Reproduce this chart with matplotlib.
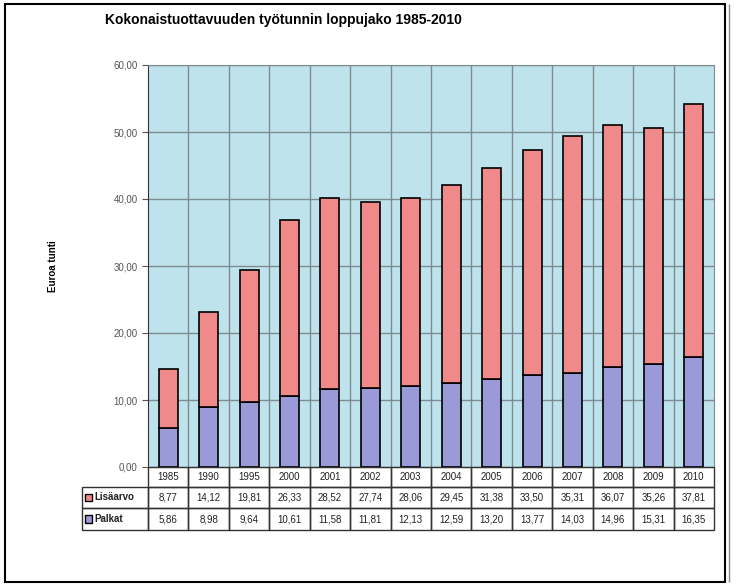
import matplotlib
matplotlib.use('Agg')
import matplotlib.pyplot as plt
from matplotlib.patches import Rectangle

plt.rcParams['font.family'] = ['Liberation Sans', 'DejaVu Sans']

vuodet = ['1985', '1990', '1995', '2000', '2001', '2002', '2003', '2004',
          '2005', '2006', '2007', '2008', '2009', '2010']
lisaarvo = [8.77, 14.12, 19.81, 26.33, 28.52, 27.74, 28.06, 29.45,
            31.38, 33.50, 35.31, 36.07, 35.26, 37.81]
palkat = [5.86, 8.98, 9.64, 10.61, 11.58, 11.81, 12.13, 12.59,
          13.20, 13.77, 14.03, 14.96, 15.31, 16.35]

col_lisa = '#f08a8a'
col_palkat = '#9a9ad8'
bg = '#bfe3ec'

fig = plt.figure(figsize=(7.36, 5.86), dpi=100)
ax = fig.add_axes([148/736, 1-467/586, 566/736, 402/586])
ax.set_facecolor(bg)

x = list(range(len(vuodet)))
ax.bar(x, palkat, width=0.47, color=col_palkat, edgecolor='black', linewidth=1.2, zorder=3)
ax.bar(x, lisaarvo, bottom=palkat, width=0.47, color=col_lisa, edgecolor='black',
       linewidth=1.2, zorder=3)

ax.set_xlim(-0.5, len(vuodet) - 0.5)
ax.set_ylim(0, 60)
ax.set_yticks(range(0, 61, 10))
ax.set_yticklabels([f'{v:.2f}'.replace('.', ',') for v in range(0, 61, 10)],
                   fontsize=7, color='#555555')
ax.tick_params(axis='y', length=4, color='#555555')
ax.set_xticks([])
for y in range(10, 61, 10):
    ax.axhline(y, color='#7d8c90', lw=1.0, zorder=1)
for xv in x[:-1]:
    ax.axvline(xv + 0.5, color='#7d8c90', lw=1.0, zorder=1)
for s in ['top', 'right']:
    ax.spines[s].set_color('#7d8c90')
ax.spines['left'].set_color('#333333')
ax.spines['bottom'].set_color('#333333')

ax.set_ylabel('Euroa tunti', fontsize=7, fontweight='bold', labelpad=40)

# data table below the plot
lbl_w = 66 / 566
rows_h = [20 / 402, 21 / 402, 22 / 402]
rivit = [(None, vuodet),
         ('Lisäarvo', [f'{v:.2f}'.replace('.', ',') for v in lisaarvo]),
         ('Palkat', [f'{v:.2f}'.replace('.', ',') for v in palkat])]
colw = 1 / len(vuodet)
ytop = 0
for (label, vals), h in zip(rivit, rows_h):
    ybot = ytop - h
    for i, v in enumerate(vals):
        ax.add_patch(Rectangle((i * colw, ybot), colw, h, transform=ax.transAxes,
                               fill=False, edgecolor='#333333', lw=1.0, clip_on=False))
        ax.text((i + 0.5) * colw, ybot + h / 2, v, transform=ax.transAxes,
                ha='center', va='center', fontsize=7, color='#222222')
    if label:
        ax.add_patch(Rectangle((-lbl_w, ybot), lbl_w, h, transform=ax.transAxes,
                               fill=False, edgecolor='#333333', lw=1.0, clip_on=False))
        kc = col_lisa if label == 'Lisäarvo' else col_palkat
        ax.add_patch(Rectangle((-lbl_w + 0.006, ybot + h / 2 - 0.009), 0.011, 0.018,
                               transform=ax.transAxes, facecolor=kc, edgecolor='black',
                               lw=1.0, clip_on=False))
        ax.text(-lbl_w + 0.022, ybot + h / 2, label, transform=ax.transAxes,
                ha='left', va='center', fontsize=7, fontweight='bold', color='#222222')
    ytop = ybot

fig.text(105/736, 1-20/586, 'Kokonaistuottavuuden työtunnin loppujako 1985-2010',
         fontsize=10, fontweight='bold', ha='left', va='center')

# outer frame
fig.patches.append(Rectangle((5/736, 4/586), 720/736, 578/586, transform=fig.transFigure,
                             fill=False, edgecolor='black', lw=1.5))
fig.patches.append(Rectangle((729/736, 4/586), 0, 578/586, transform=fig.transFigure,
                             fill=False, edgecolor='#888888', lw=1.0))

plt.savefig('out.png', dpi=100)
